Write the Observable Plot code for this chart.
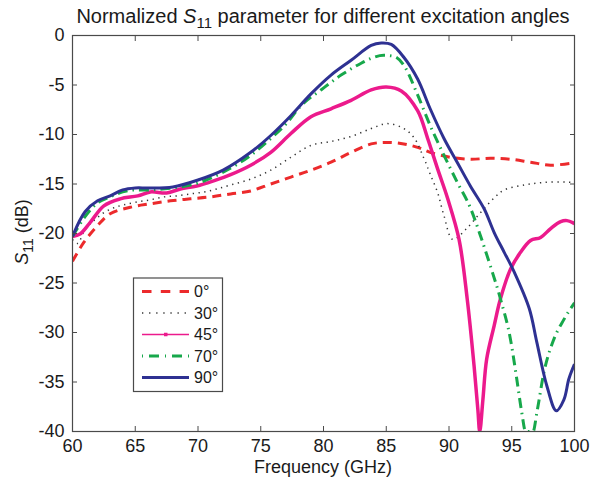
<!DOCTYPE html>
<html><head><meta charset="utf-8">
<script src="https://cdn.jsdelivr.net/npm/d3@7"></script>
<script src="https://cdn.jsdelivr.net/npm/@observablehq/plot@0.6"></script>
<style>
body{margin:0;background:#fff;}
#wrap{position:relative;width:591px;height:486px;font-family:"Liberation Sans",Arial,Helvetica,sans-serif;}
#overlay{position:absolute;left:0;top:0;pointer-events:none;}
</style>
</head><body>
<div id="wrap"><div id="chart"></div><svg id="overlay" width="591" height="486"></svg></div>
<script>
// ---- data ----
const xTicks = [60, 65, 70, 75, 80, 85, 90, 95, 100];
const yTicks = [-40, -35, -30, -25, -20, -15, -10, -5, 0];
const seriesNames = ["0°", "30°", "45°", "70°", "90°"];

const f0 = [60, 60.9, 62, 63, 64.6, 66.2, 67.8, 69.4, 71, 72.6, 74.2, 75.8, 77.4, 79.0, 80.6, 82.2, 83.8, 85.1, 86.4, 87.5, 88.5, 90.1, 91.7, 93.3, 94.9, 96.5, 98.1, 100];
const s0 = [-22.8, -20.9, -19.2, -18.0, -17.35, -17.0, -16.7, -16.5, -16.3, -16.0, -15.7, -15.0, -14.3, -13.6, -12.8, -11.8, -10.95, -10.8, -10.95, -11.3, -11.8, -12.3, -12.5, -12.4, -12.5, -12.8, -13.1, -12.85];

const f30 = [60, 60.4, 61.0, 61.7, 62.5, 63.3, 64.1, 65.2, 66.2, 67.3, 68.3, 69.4, 70.5, 71.5, 72.6, 74.2, 75.8, 77.4, 79.0, 80.6, 82.2, 83.8, 85.1, 86.4, 87.2, 88.0, 88.5, 89.1, 89.6, 90.3, 91.4, 92.5, 93.6, 94.4, 96.0, 97.5, 99.4, 100];
const s30 = [-20.6, -21.0, -19.6, -18.7, -17.9, -17.4, -17.1, -16.8, -16.6, -16.3, -16.2, -16.0, -15.8, -15.5, -15.1, -14.5, -13.6, -12.3, -11.1, -10.7, -10.2, -9.4, -8.9, -9.4, -10.3, -12.4, -14.0, -15.9, -18.2, -20.6, -19.5, -17.9, -16.4, -15.6, -15.1, -14.85, -14.8, -14.9];

const f45 = [60, 60.6, 61.4, 62.5, 63.8, 65.2, 66.2, 67.5, 68.6, 69.9, 71.3, 72.6, 74.2, 75.8, 77.4, 79.0, 80.6, 82.2, 83.8, 85.0, 86.2, 87.5, 88.3, 89.1, 89.9, 90.8, 91.45, 92.0, 92.3, 92.45, 92.7, 93.0, 93.6, 94.1, 94.9, 95.7, 96.5, 97.3, 98.1, 98.9, 99.4, 100];
const s45 = [-20.3, -20.05, -18.9, -17.2, -16.5, -16.2, -15.8, -15.9, -15.5, -15.2, -14.65, -14.05, -13.1, -11.8, -9.9, -8.2, -7.4, -6.55, -5.5, -5.2, -5.6, -7.6, -10.4, -13.5, -16.5, -20.6, -26.6, -33.4, -37.8, -40, -36.8, -32.7, -29.3, -26.6, -23.6, -21.9, -20.7, -20.4, -19.5, -18.8, -18.7, -19.0];

const f70 = [60, 61, 62, 63, 64, 65, 66, 68, 70, 72, 74.2, 75.8, 76.9, 78.2, 79.8, 81.4, 83.0, 83.8, 84.8, 85.6, 86.4, 87.5, 88.5, 89.6, 90.65, 91.7, 92.5, 93.3, 94.1, 94.9, 95.4, 95.8, 96.1, 96.7, 97.0, 97.55, 98.35, 99.15, 100];
const s70 = [-20.3, -18.3, -16.9, -16.3, -15.8, -15.6, -15.6, -15.4, -14.9, -13.8, -12.1, -10.4, -9.1, -7.1, -5.5, -4.0, -2.8, -2.3, -2.0, -2.1, -3.0, -6.0, -9.1, -12.1, -14.8, -17.4, -20.2, -23.3, -26.6, -30.7, -34.7, -38.1, -40, -40, -38.1, -34.1, -30.7, -28.7, -27.0];

const f90 = [60, 61, 62, 63, 64, 65, 66, 68, 70, 72, 74.2, 75.8, 77.4, 79.0, 80.6, 82.2, 83.8, 84.6, 85.4, 86.4, 87.5, 88.5, 89.6, 90.65, 91.7, 92.8, 93.6, 94.4, 95.2, 96.4, 97.0, 97.8, 98.55, 99.15, 99.55, 100];
const s90 = [-20.3, -17.8, -16.7, -16.2, -15.6, -15.4, -15.4, -15.3, -14.6, -13.6, -11.8, -10.1, -8.1, -5.9, -4.0, -2.5, -1.0, -0.75, -0.9, -2.2, -4.4, -7.4, -10.4, -12.8, -15.2, -17.5, -19.9, -21.9, -23.9, -27.6, -31.0, -35.4, -37.9, -36.8, -34.7, -33.2];

const styles = [
  {stroke: "#ec2a2c", strokeWidth: 3, legendWidth: 3, dash: "9,6", legendDash: "9.5,9.3", curve: "catmull-rom"},
  {stroke: "#333333", strokeWidth: 1.5, legendWidth: 1.5, dash: "1.3,4.5", legendDash: "1.3,5.8", curve: "catmull-rom"},
  {stroke: "#ec1a8c", strokeWidth: 3.5, legendWidth: 1.6, dash: null, legendDash: null, curve: "catmull-rom"},
  {stroke: "#17a84b", strokeWidth: 3, legendWidth: 3, dash: "10,5,1.5,5", legendDash: "1,6,10,6", curve: "monotone-x"},
  {stroke: "#2e3192", strokeWidth: 3, legendWidth: 3, dash: null, legendDash: null, curve: "catmull-rom"}
];

const freqs = [f0, f30, f45, f70, f90];
const vals = [s0, s30, s45, s70, s90];
const series = freqs.map((f, i) => f.map((x, j) => ({f: x, s: vals[i][j]})));

const fmt = d => String(d);
const font = '"Liberation Sans", Arial, Helvetica, sans-serif';

const plot = Plot.plot({
  width: 591,
  height: 486,
  marginTop: 35,
  marginBottom: 55,
  marginLeft: 72,
  marginRight: 17,
  style: {fontSize: "18px", fontFamily: font, color: "#1a1a1a", background: "#fff"},
  x: {domain: [60, 100], ticks: xTicks},
  y: {domain: [-40, 0], ticks: yTicks},
  marks: [
    ...series.map((d, i) => Plot.line(d, {
      x: "f", y: "s", stroke: styles[i].stroke, strokeWidth: styles[i].strokeWidth,
      strokeDasharray: styles[i].dash, curve: styles[i].curve, clip: true,
      strokeLinecap: "butt"
    })),
    Plot.frame({stroke: "#4a4a4a", strokeWidth: 1.2}),
    Plot.axisX({ticks: xTicks, tickSize: -5, tickPadding: 13, tickFormat: fmt, label: null, stroke: "#4a4a4a"}),
    Plot.axisX({anchor: "top", ticks: xTicks, tickSize: -5, tickFormat: () => "", label: null, stroke: "#4a4a4a"}),
    Plot.axisY({ticks: yTicks, tickSize: -5, tickPadding: 13, tickFormat: fmt, label: null, stroke: "#4a4a4a"}),
    Plot.axisY({anchor: "right", ticks: yTicks, tickSize: -5, tickFormat: () => "", label: null, stroke: "#4a4a4a"})
  ]
});
document.getElementById("chart").appendChild(plot);

// ---- overlay text & legend ----
const ov = d3.select("#overlay").style("font-family", font).style("fill", "#1a1a1a");

const title = ov.append("text").attr("x", 323).attr("y", 23).attr("text-anchor", "middle").style("font-size", "20px");
title.append("tspan").text("Normalized ");
title.append("tspan").style("font-style", "italic").text("S");
title.append("tspan").attr("dy", 5).style("font-size", "15px").text("11");
title.append("tspan").attr("dy", -5).text(" parameter for different excitation angles");

ov.append("text").attr("x", 323).attr("y", 473).attr("text-anchor", "middle").style("font-size", "18px").text("Frequency (GHz)");

const yl = ov.append("text").attr("transform", "translate(28,232) rotate(-90)").attr("text-anchor", "middle").style("font-size", "18px");
yl.append("tspan").style("font-style", "italic").text("S");
yl.append("tspan").attr("dy", 5).style("font-size", "14px").text("11");
yl.append("tspan").attr("dy", -5).text(" (dB)");

const lg = ov.append("g");
lg.append("rect").attr("x", 133.5).attr("y", 278).attr("width", 89).attr("height", 113.5)
  .attr("fill", "#fff").attr("stroke", "#4a4a4a").attr("stroke-width", 1.2);
seriesNames.forEach((name, i) => {
  const cy = 291.5 + i * 21.5;
  const st = styles[i];
  lg.append("line").attr("x1", 142).attr("x2", 189).attr("y1", cy).attr("y2", cy)
    .attr("stroke", st.stroke).attr("stroke-width", st.legendWidth)
    .attr("stroke-dasharray", st.legendDash);
  if (i === 2) lg.append("rect").attr("x", 164).attr("y", cy - 1.75).attr("width", 3.5).attr("height", 3.5).attr("fill", st.stroke);
  lg.append("text").attr("x", 194).attr("y", cy + 5.5).style("font-size", "16px").text(name);
});
</script>
</body></html>
